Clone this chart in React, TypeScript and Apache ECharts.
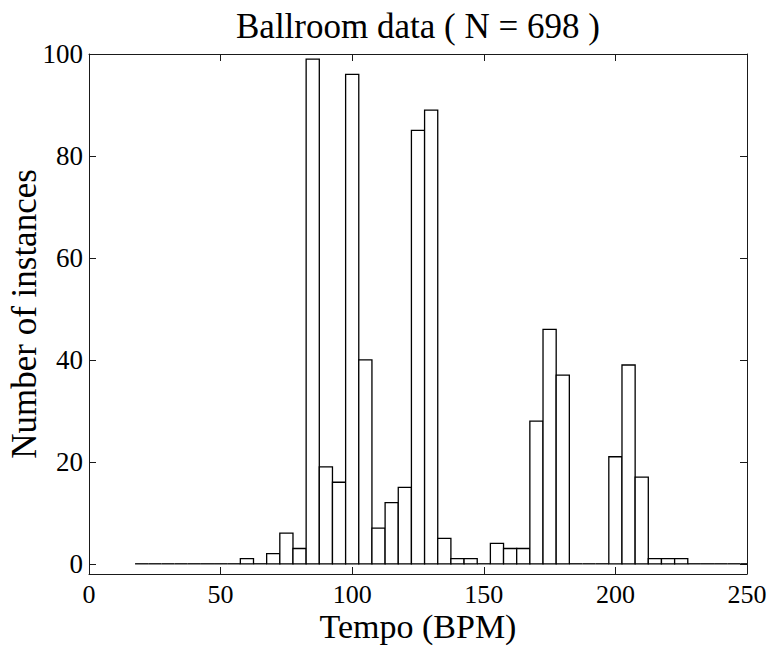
import React, { useEffect, useRef } from "react";
import * as echarts from "echarts";

const titleText = "Ballroom data ( N = 698 )";
const xAxisName = "Tempo (BPM)";
const yAxisName = "Number of instances";

const binWidth = 5;
const binCenters = [
  20, 25, 30, 35, 40, 45, 50, 55, 60, 65, 70, 75, 80, 85, 90, 95, 100, 105,
  110, 115, 120, 125, 130, 135, 140, 145, 150, 155, 160, 165, 170, 175, 180,
  185, 190, 195, 200, 205, 210, 215, 220, 225, 230, 235, 240, 245, 250,
];
const counts = [
  0, 0, 0, 0, 0, 0, 0, 0, 1, 0, 2, 6, 3, 99, 19, 16, 96, 40,
  7, 12, 15, 85, 89, 5, 1, 1, 0, 4, 3, 3, 28, 46, 37,
  0, 0, 0, 21, 39, 17, 1, 1, 1, 0, 0, 0, 0, 0,
];

const xMin = 0;
const xMax = 250;
const xInterval = 50;
const yMin = -2;
const yMax = 100;

export default function App() {
  const ref = useRef<HTMLDivElement>(null);

  useEffect(() => {
    if (!ref.current) return;
    const chart = echarts.init(ref.current, undefined, { renderer: "svg" });
    const font = "'Liberation Serif', 'Times New Roman', serif";
    const lineColor = "#1a1a1a";

    const data = binCenters.map((c, i) => [c, counts[i]]);

    const baseX = {
      type: "value" as const,
      min: xMin,
      max: xMax,
      interval: xInterval,
      splitLine: { show: false },
      axisLine: { show: true, onZero: false, lineStyle: { color: lineColor, width: 1 } },
      axisTick: { show: true, inside: true, length: 7, lineStyle: { color: lineColor, width: 1 } },
    };
    const baseY = {
      type: "value" as const,
      min: yMin,
      max: yMax,
      splitNumber: 5,
      splitLine: { show: false },
      axisLine: { show: true, onZero: false, lineStyle: { color: lineColor, width: 1 } },
      axisTick: { show: true, inside: true, length: 7, lineStyle: { color: lineColor, width: 1 } },
    };

    chart.setOption({
      animation: false,
      backgroundColor: "#fff",
      title: {
        text: titleText,
        left: 231,
        top: 4,
        textStyle: { fontFamily: font, fontSize: 35, fontWeight: "normal", color: "#000" },
      },
      grid: {
        left: 89,
        top: 54,
        width: 658,
        height: 520,
        containLabel: false,
        outerBoundsMode: "none",
      },
      xAxis: [
        {
          ...baseX,
          position: "bottom",
          name: xAxisName,
          nameLocation: "middle",
          nameGap: 38,
          nameMoveOverlap: false,
          nameTextStyle: { fontFamily: font, fontSize: 34, lineHeight: 28, color: "#000" },
          axisLabel: {
            show: true,
            fontFamily: font,
            fontSize: 26,
            lineHeight: 22,
            color: "#000",
            margin: 9,
          },
        },
        {
          ...baseX,
          position: "top",
          axisLabel: { show: false },
        },
      ],
      yAxis: [
        {
          ...baseY,
          position: "left",
          name: yAxisName,
          nameLocation: "middle",
          nameGap: 47,
          nameMoveOverlap: false,
          nameTextStyle: { fontFamily: font, fontSize: 35, color: "#000" },
          axisLabel: {
            show: true,
            fontFamily: font,
            fontSize: 27,
            color: "#000",
            margin: 6,
            showMinLabel: false,
            formatter: (v: number) => (v % 20 === 0 ? String(v) : ""),
          },
        },
        {
          ...baseY,
          position: "right",
          axisLabel: { show: false },
        },
      ],
      series: [
        {
          type: "custom",
          xAxisIndex: 0,
          yAxisIndex: 0,
          data,
          renderItem: (params: any, api: any) => {
            const c = api.value(0);
            const v = api.value(1);
            const cs = params.coordSys;
            const left = api.coord([c - binWidth / 2, v]);
            const right = api.coord([c + binWidth / 2, 0]);
            const x0 = Math.max(left[0], cs.x);
            const x1 = Math.min(right[0], cs.x + cs.width);
            if (x1 <= x0) return null;
            if (v === 0) {
              return {
                type: "line",
                shape: { x1: x0, y1: right[1], x2: x1, y2: right[1] },
                style: { stroke: "#000", lineWidth: 1.3 },
              };
            }
            return {
              type: "rect",
              shape: { x: x0, y: left[1], width: x1 - x0, height: right[1] - left[1] },
              style: { fill: "#fff", stroke: "#000", lineWidth: 1.3 },
            };
          },
        },
      ],
    });

    return () => chart.dispose();
  }, []);

  return (
    <div
      ref={ref}
      style={{ position: "fixed", left: 0, top: 0, width: 772, height: 647, background: "#fff" }}
    />
  );
}
